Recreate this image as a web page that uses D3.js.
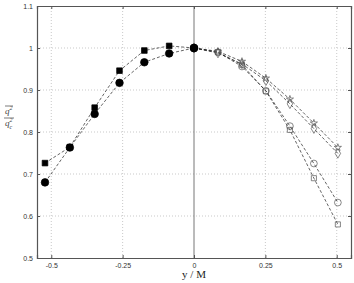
<!DOCTYPE html>
<html>
<head>
<meta charset="utf-8">
<script src="https://cdn.jsdelivr.net/npm/d3@7"></script>
<style>
  body { margin: 0; background: #fff; }
  svg { display: block; }
  .tick text { font-family: "Liberation Sans", Arial, sans-serif; font-size: 7px; fill: #333; }
</style>
</head>
<body>
<div class="canvas"></div>
<script>
// Data
const xLeft = [-0.522, -0.435, -0.348, -0.261, -0.174, -0.087, 0];
const filledSquare = [0.726, 0.764, 0.858, 0.946, 0.994, 1.005, 1.0];
const filledCircle = [0.680, 0.763, 0.843, 0.917, 0.966, 0.987, 1.0];

const xRight = [0, 0.084, 0.168, 0.252, 0.336, 0.420, 0.504];
const openStar = [1.0, 0.992, 0.968, 0.928, 0.878, 0.821, 0.763];
const openDiamond = [1.0, 0.988, 0.962, 0.922, 0.867, 0.808, 0.749];
const openCircle = [1.0, 0.990, 0.956, 0.898, 0.814, 0.725, 0.632];
const openSquare = [1.0, 0.990, 0.960, 0.897, 0.805, 0.690, 0.580];

const xTicks = [-0.5, -0.25, 0, 0.25, 0.5];
const yTicks = [0.5, 0.6, 0.7, 0.8, 0.9, 1, 1.1];

// Dimensions
const dims = { width: 354, height: 283 };
const margin = { left: 37, right: 3, top: 6, bottom: 25 };

const svg = d3.select('.canvas')
    .append('svg')
    .attr('width', dims.width)
    .attr('height', dims.height);

const x = d3.scaleLinear()
    .domain([-0.55, 0.55])
    .range([margin.left, dims.width - margin.right]);

const y = d3.scaleLinear()
    .domain([0.5, 1.1])
    .range([dims.height - margin.bottom, margin.top]);

// Grid
const grid = svg.append('g');
grid.selectAll('.gx')
    .data(xTicks.filter(d => d !== 0))
    .enter().append('line')
        .attr('x1', d => x(d)).attr('x2', d => x(d))
        .attr('y1', y(0.5)).attr('y2', y(1.1))
        .attr('stroke', '#bbb').attr('stroke-width', 0.8)
        .attr('stroke-dasharray', '1,2');
grid.selectAll('.gy')
    .data(yTicks.slice(1, -1))
    .enter().append('line')
        .attr('y1', d => y(d)).attr('y2', d => y(d))
        .attr('x1', x(-0.55)).attr('x2', x(0.55))
        .attr('stroke', '#bbb').attr('stroke-width', 0.8)
        .attr('stroke-dasharray', '1,2');

// Zero line
svg.append('line')
    .attr('x1', x(0)).attr('x2', x(0))
    .attr('y1', y(0.5)).attr('y2', y(1.1))
    .attr('stroke', '#777').attr('stroke-width', 1);

// Axes
svg.append('g')
    .attr('transform', `translate(0, ${y(0.5)})`)
    .call(d3.axisBottom(x).tickValues(xTicks).tickSize(-3).tickPadding(5)
        .tickFormat(d => String(d)));
svg.append('g')
    .attr('transform', `translate(0, ${y(1.1)})`)
    .call(d3.axisTop(x).tickValues(xTicks).tickSize(-3).tickFormat(''));
svg.append('g')
    .attr('transform', `translate(${x(-0.55)}, 0)`)
    .call(d3.axisLeft(y).tickValues(yTicks).tickSize(-3).tickPadding(4)
        .tickFormat(d => d === 1 ? '1' : d3.format('.1f')(d)));
svg.append('g')
    .attr('transform', `translate(${x(0.55)}, 0)`)
    .call(d3.axisRight(y).tickValues(yTicks).tickSize(-3).tickFormat(''));

svg.selectAll('.domain').attr('stroke', '#555').attr('stroke-width', 1.2);
svg.selectAll('.tick line').attr('stroke', '#555');

// Lines
const line = d3.line().x(d => x(d[0])).y(d => y(d[1]));
const series = [
    { xs: xRight, ys: openStar, sym: d3.symbolStar, size: 16, fill: 'none' },
    { xs: xRight, ys: openDiamond, sym: d3.symbolDiamond, size: 26, fill: 'none' },
    { xs: xRight, ys: openCircle, sym: d3.symbolCircle, size: 36, fill: 'none' },
    { xs: xRight, ys: openSquare, sym: d3.symbolSquare, size: 26, fill: 'none' },
    { xs: xLeft, ys: filledCircle, sym: d3.symbolCircle, size: 45, fill: '#000' },
    { xs: xLeft, ys: filledSquare, sym: d3.symbolSquare, size: 32, fill: '#000' }
];

series.forEach(s => {
    const pts = s.xs.map((v, i) => [v, s.ys[i]]);
    svg.append('path')
        .attr('d', line(pts))
        .attr('fill', 'none')
        .attr('stroke', '#222')
        .attr('stroke-width', 0.7)
        .attr('stroke-dasharray', '3,2');
});

series.forEach(s => {
    const pts = s.xs.map((v, i) => [v, s.ys[i]]);
    svg.append('g').selectAll('path')
        .data(pts)
        .enter().append('path')
            .attr('d', d3.symbol().type(s.sym).size(s.size))
            .attr('transform', d => `translate(${x(d[0])}, ${y(d[1])})`)
            .attr('fill', s.fill)
            .attr('stroke', s.fill === 'none' ? '#555' : '#000')
            .attr('stroke-width', 0.7);
});

// Big filled dot at origin point
svg.append('circle')
    .attr('cx', x(0)).attr('cy', y(1))
    .attr('r', 4.2)
    .attr('fill', '#000');

// Axis label
svg.append('text')
    .attr('x', x(0)).attr('y', 278)
    .attr('text-anchor', 'middle')
    .attr('font-family', '"Liberation Serif", "Times New Roman", serif')
    .attr('font-size', 11)
    .attr('fill', '#222')
    .text('y / M');

// y label: overline q^2 over q_c^2
const yl = svg.append('g')
    .attr('transform', 'translate(9, 118)')
    .attr('font-family', '"Liberation Serif", "Times New Roman", serif')
    .attr('font-style', 'italic')
    .attr('fill', '#444');
yl.append('line').attr('x1', -4).attr('x2', 4).attr('y1', -12).attr('y2', -12)
    .attr('stroke', '#444').attr('stroke-width', 0.7);
const num = yl.append('text').attr('x', -4).attr('y', -4).attr('font-size', 9);
num.append('tspan').text('q');
num.append('tspan').attr('font-size', 6).attr('dy', -4).text('2');
yl.append('line').attr('x1', -5).attr('x2', 5).attr('y1', 0).attr('y2', 0)
    .attr('stroke', '#444').attr('stroke-width', 0.7);
const den = yl.append('text').attr('x', -4).attr('y', 8).attr('font-size', 9);
den.append('tspan').text('q');
den.append('tspan').attr('font-size', 6).attr('dy', -4).text('2');
den.append('tspan').attr('font-size', 6).attr('dx', -3).attr('dy', 7).text('c');
</script>
</body>
</html>
